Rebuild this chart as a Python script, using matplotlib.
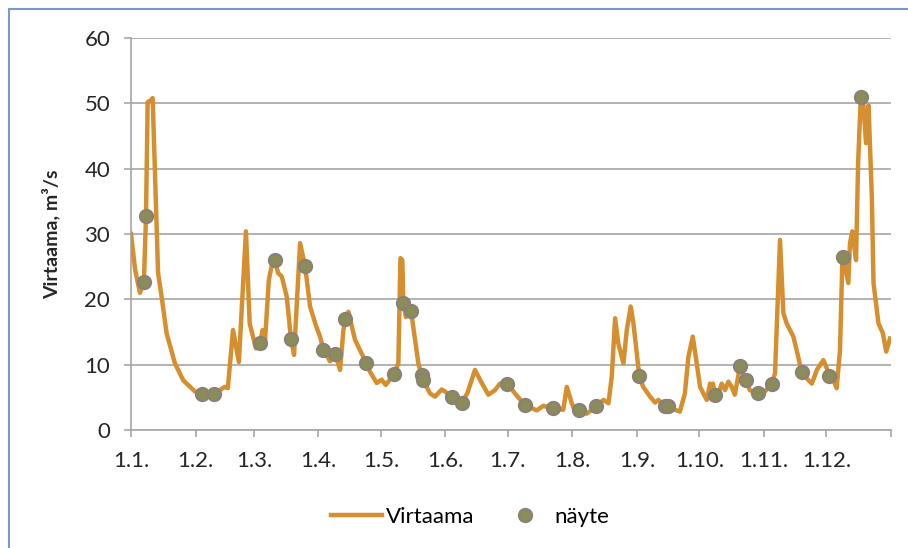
import matplotlib
matplotlib.use('Agg')
from matplotlib import pyplot as plt
from matplotlib.lines import Line2D
from matplotlib.patches import Rectangle

plt.rcParams['font.family'] = ['Lato', 'DejaVu Sans']

# day of year (0 = 1.1.) and daily flow
flow_day = [0, 2.0, 4.3, 6.2, 7.2, 8.0, 9.3, 10.4, 13.0, 14.7, 17.1, 21.1, 25.1, 30.7, 34.0, 40.0,
            45.0, 46.5, 49.0, 51.8, 55.2, 57.0, 60.0, 62.0, 63.2, 64.4, 66.2, 67.5, 69.0, 70.7,
            72.4, 74.8, 76.8, 78.3, 81.2, 83.6, 86.0, 89.0, 90.8, 92.4, 95.6, 98.0, 100.4, 102.0,
            103.0, 104.4, 107.6, 110.8, 112.9, 114.8, 118.0, 120.4, 122.3, 126.3, 128.4, 129.4,
            130.3, 130.8, 132.0, 134.5, 136.4, 138.0, 139.6, 140.4, 143.6, 146.0, 149.2, 150.8,
            154.0, 156.4, 158.8, 161.5, 165.2, 167.6, 171.6, 174.8, 177.2, 180.8, 184.4, 189.2,
            194.9, 198.0, 202.5, 207.6, 209.3, 211.7, 213.3, 215.2, 218.9, 223.2, 226.9, 229.3,
            230.9, 232.5, 234.0, 236.5, 238.1, 240.0, 241.3, 242.9, 244.1, 246.0, 249.3, 251.7,
            253.3, 256.5, 258.0, 261.2, 263.6, 266.0, 267.7, 269.8, 271.7, 273.3, 274.1, 276.5,
            278.1, 278.8, 279.5, 280.5, 282.1, 283.7, 285.3, 286.9, 288.5, 290.0, 291.5, 292.5,
            295.2, 297.2, 301.2, 304.4, 307.7, 309.3, 311.7, 313.3, 314.9, 318.1, 319.7, 322.1,
            324.5, 327.0, 329.4, 332.5, 334.2, 335.4, 337.3, 338.9, 340.5, 341.6, 342.1, 344.5,
            345.3, 346.4, 348.2, 349.2, 350.5, 351.7, 353.0, 354.2, 355.8, 356.6, 359.0, 361.1,
            362.7, 364.5]
flow_val = [30.0, 24.5, 21.0, 22.7, 32.7, 50.2, 50.4, 50.8, 24.0, 20.4, 14.8, 10.2, 7.6, 5.9, 5.5, 5.5,
            6.6, 6.4, 15.3, 10.4, 30.4, 16.3, 12.5, 13.3, 15.3, 13.8, 23.0, 25.0, 26.0, 24.0,
            23.5, 20.4, 14.0, 11.5, 28.6, 25.1, 18.9, 15.8, 14.3, 12.3, 10.5, 11.7, 9.2, 15.3,
            17.0, 18.1, 13.8, 11.7, 10.3, 8.9, 7.2, 7.7, 6.9, 8.5, 10.2, 26.3,
            26.0, 19.5, 17.3, 18.2, 13.8, 10.2, 8.4, 7.6, 5.6, 5.1, 6.2, 5.9,
            5.0, 4.5, 4.2, 5.6, 9.2, 7.7, 5.4, 6.1, 7.1, 7.1, 5.6, 3.8,
            3.0, 3.7, 3.3, 3.1, 6.6, 4.1, 2.8, 3.0, 2.5, 3.6, 4.6, 4.1,
            8.2, 17.1, 13.3, 10.2, 15.3, 18.9, 16.3, 11.7, 8.3, 6.6, 5.1, 4.2,
            4.6, 3.6, 3.6, 3.1, 2.8, 5.6, 11.2, 14.3, 10.2, 6.6, 6.1, 4.6,
            7.1, 6.1, 7.1, 5.4, 5.6, 7.1, 6.1, 7.4, 6.6, 5.4, 8.0, 9.8,
            7.6, 6.1, 5.6, 5.9, 7.0, 8.7, 29.1, 17.9, 16.3, 14.3, 12.2, 8.9,
            7.9, 7.1, 9.2, 10.7, 9.4, 8.2, 7.7, 6.4, 12.2, 25.5, 26.5, 22.5,
            28.6, 30.4, 26.0, 40.8, 51.0, 50.0, 43.9, 49.7, 35.7, 22.5, 16.3, 14.8,
            12.0, 14.0]

# samples (näyte)
sample_day = [6.2, 7.2, 34.0, 40.0, 62.0, 69.0, 76.8, 83.6, 92.4, 98.0, 103.0, 112.9, 126.3, 130.8,
              134.5, 139.6, 140.4, 154.0, 158.8, 180.8, 189.2, 202.5, 215.2, 223.1, 244.1, 256.5,
              258.0, 280.5, 292.5, 295.2, 301.2, 307.7, 322.1, 335.4, 342.1, 350.5]
sample_val = [22.7, 32.7, 5.5, 5.5, 13.3, 26.0, 14.0, 25.1, 12.3, 11.7, 17.0, 10.3, 8.5, 19.5,
              18.2, 8.4, 7.6, 5.0, 4.2, 7.1, 3.8, 3.3, 3.0, 3.6, 8.3, 3.6,
              3.6, 5.4, 9.8, 7.6, 5.6, 7.0, 8.9, 8.2, 26.5, 51.0]

month_start = [0, 31, 59, 90, 120, 151, 181, 212, 243, 273, 304, 334]
month_labels = ['1.1.', '1.2.', '1.3.', '1.4.', '1.5.', '1.6.', '1.7.', '1.8.', '1.9.', '1.10.', '1.11.', '1.12.']

LINE = '#D68F2E'
DOT = '#8B8C57'
DOT_EDGE = '#8A8079'
GRID = '#A6A6A6'

fig = plt.figure(figsize=(9.08, 5.48), dpi=100)
ax = fig.add_axes([131 / 908, 1 - 430 / 548, 760 / 908, 392 / 548])

ax.plot(flow_day, flow_val, color=LINE, lw=3.2, solid_joinstyle='round', zorder=3)
ax.plot(sample_day, sample_val, ls='none', marker='o', ms=9.5, mfc=DOT, mec=DOT_EDGE, mew=1.5, zorder=4)

ax.set_xlim(0, 365)
ax.set_ylim(0, 60)
ax.set_yticks(range(0, 61, 10))
ax.set_xticks(month_start + [365])
ax.set_xticklabels(month_labels + [''])
ax.yaxis.grid(True, color=GRID, lw=1.2)
ax.set_axisbelow(True)
for s in ['top', 'right']:
    ax.spines[s].set_visible(False)
for s in ['left', 'bottom']:
    ax.spines[s].set_color(GRID)
    ax.spines[s].set_linewidth(1.2)
ax.tick_params(axis='both', colors=GRID, labelcolor='#262626', labelsize=16, length=5, width=1.2)
ax.tick_params(axis='x', pad=10)
ax.tick_params(axis='y', pad=10)

ax.set_ylabel('Virtaama, m³/s', fontsize=14, fontweight='bold', color='#262626')
ax.yaxis.set_label_coords(-0.093, 0.5)

handles = [Line2D([], [], color=LINE, lw=3.2),
           Line2D([], [], ls='none', marker='o', ms=9.5, mfc=DOT, mec=DOT_EDGE, mew=1.5)]
fig.legend(handles, ['Virtaama', 'näyte'], loc='center', bbox_to_anchor=(470 / 908, 1 - 517 / 548),
           ncol=2, frameon=False, fontsize=16, handlelength=2.3, columnspacing=1.1, handletextpad=0.2)

# outer chart frame
fig.patches.append(Rectangle((9 / 908, -0.1), 1.2, 1 - 9 / 548 + 0.1, transform=fig.transFigure,
                             fill=False, edgecolor='#7A98CB', lw=1.5))

plt.savefig('out.png', dpi=100)
